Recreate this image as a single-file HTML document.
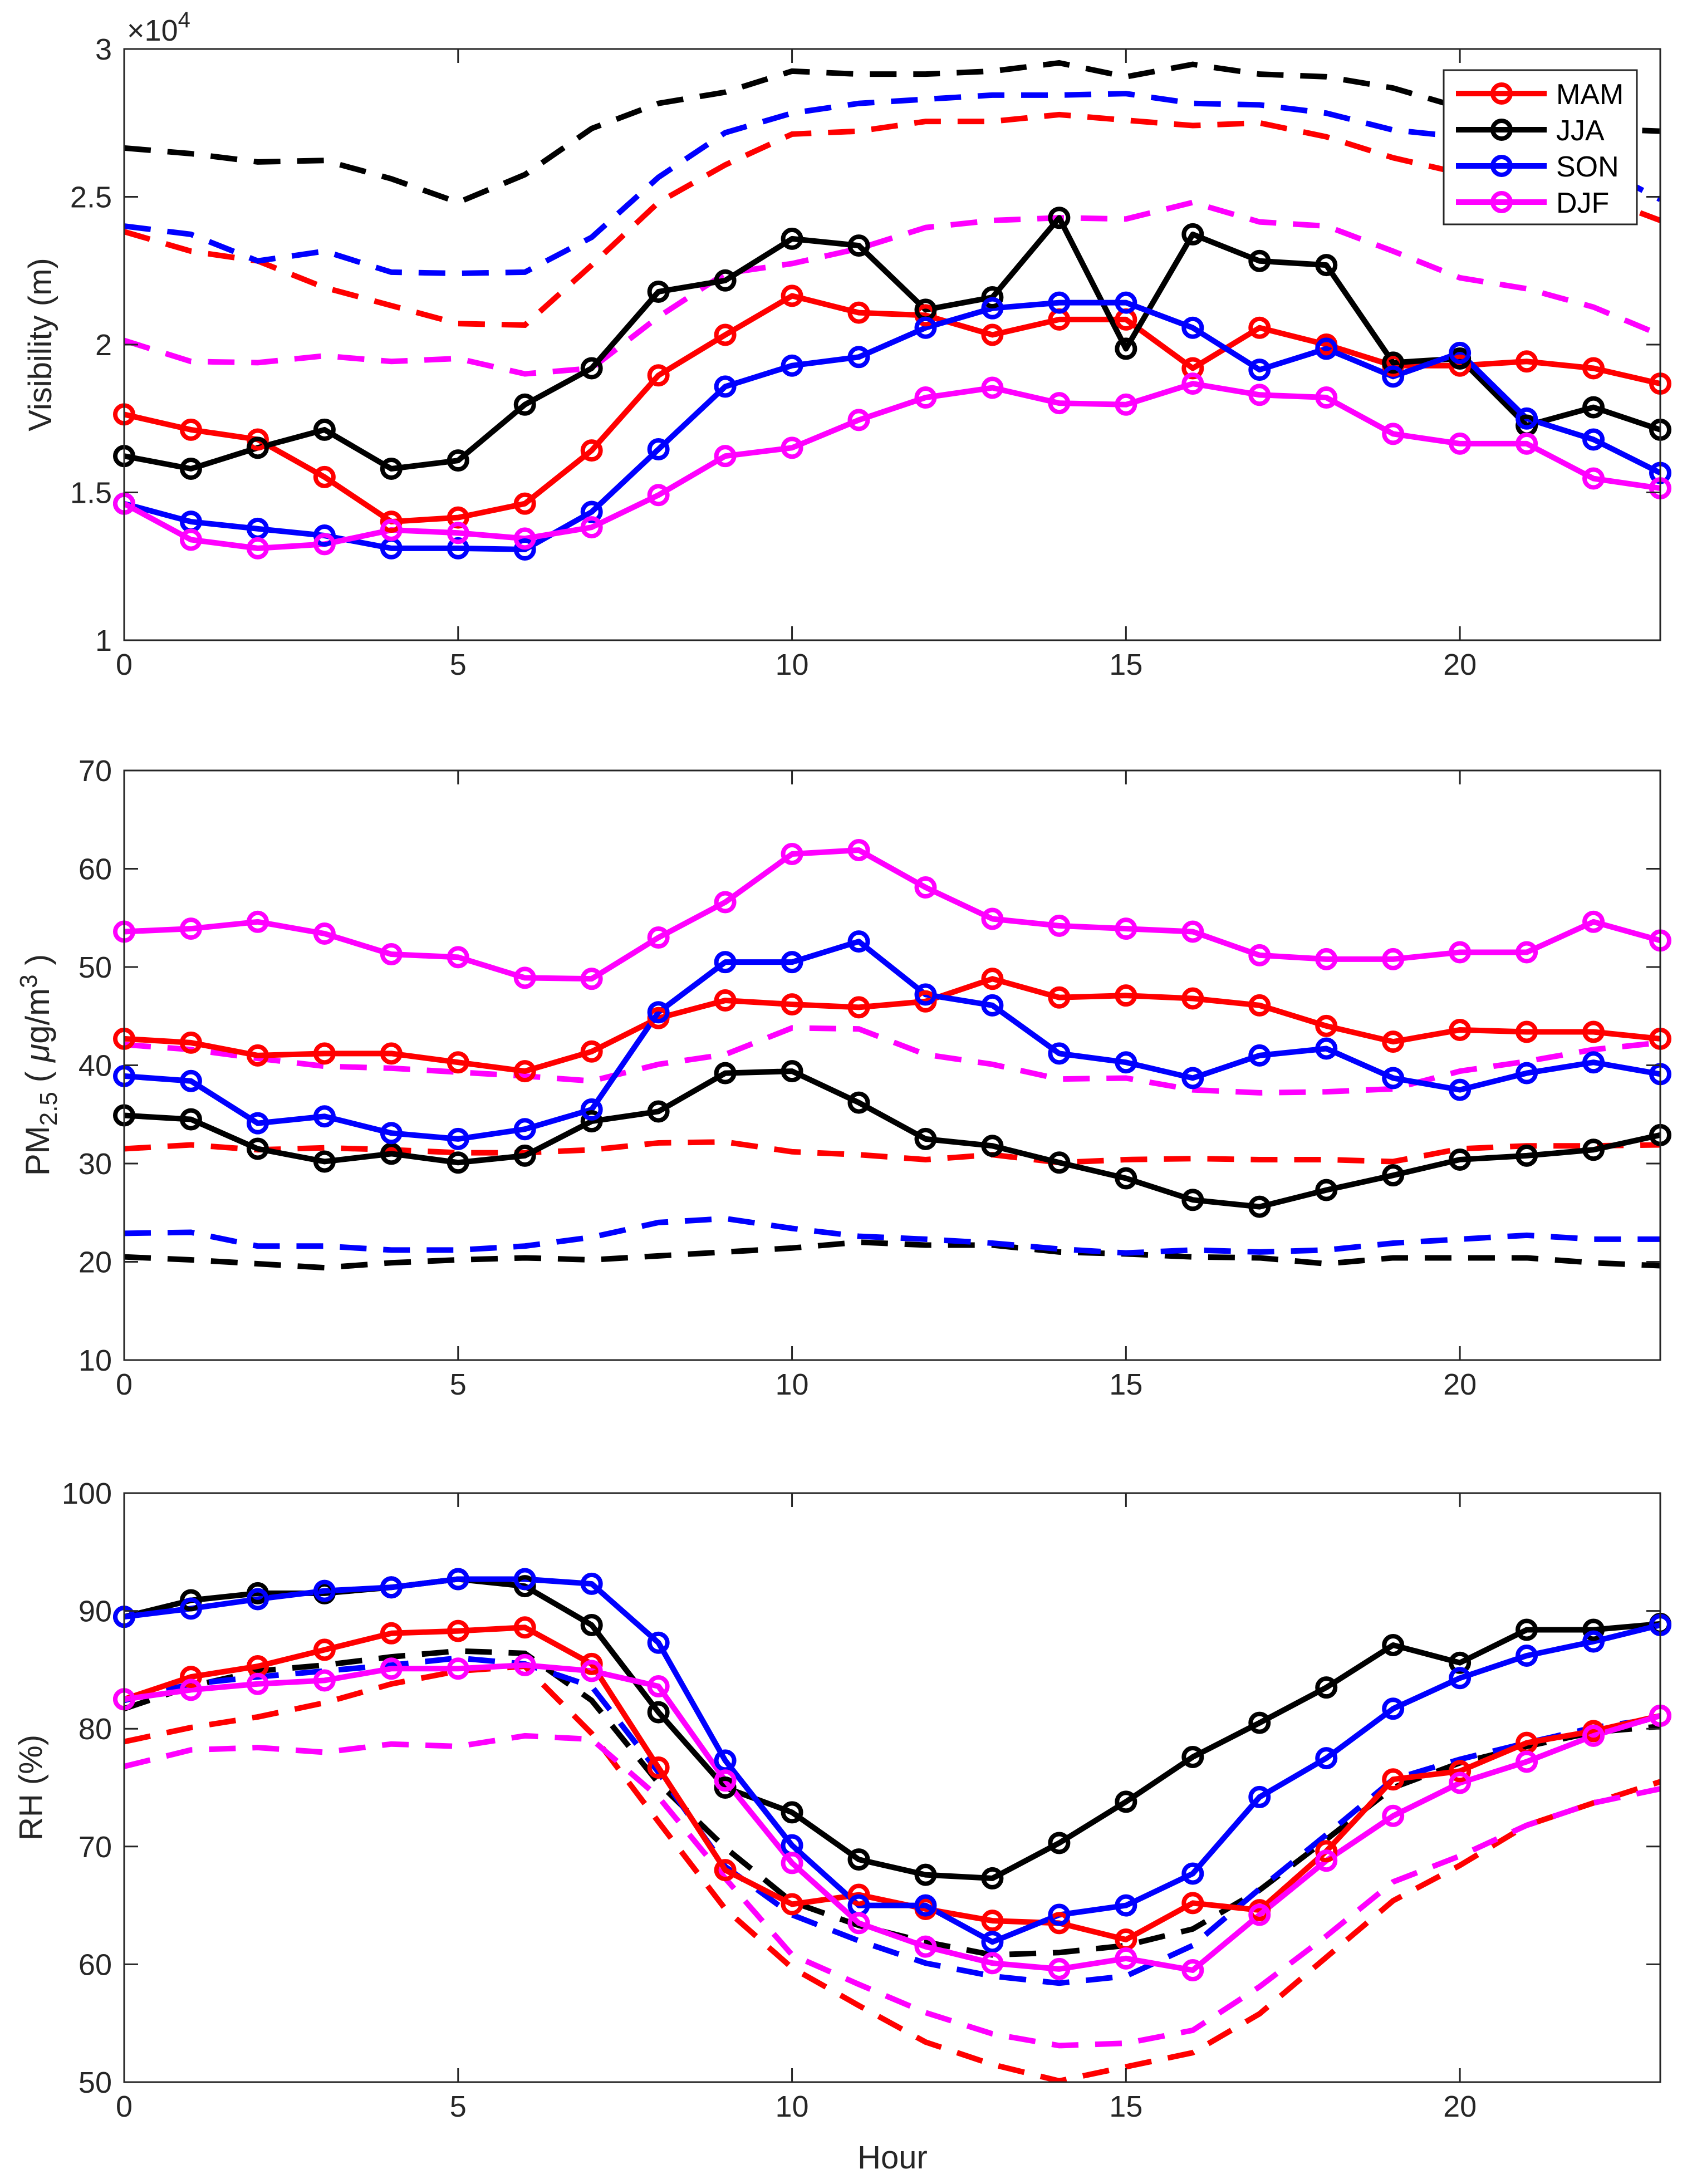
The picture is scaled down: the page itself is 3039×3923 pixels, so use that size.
<!DOCTYPE html>
<html><head><meta charset="utf-8"><style>
html,body{margin:0;padding:0;background:#fff}
svg{display:block;font-family:"Liberation Sans",Arial,sans-serif}
</style></head><body>
<svg id="chart" width="3039" height="3923" viewBox="0 0 3039 3923" xmlns="http://www.w3.org/2000/svg" style="position:absolute;left:0;top:0"></svg>
<script>
const hours = [...Array(24).keys()];
const seasons = ["MAM","JJA","SON","DJF"];
const seasonColors = ["#ff0000","#000000","#0000ff","#ff00ff"];
const visSolidMAM=[1.764,1.712,1.679,1.552,1.401,1.415,1.462,1.642,1.896,2.033,2.165,2.108,2.099,2.033,2.085,2.085,1.92,2.057,2.0,1.929,1.929,1.943,1.92,1.868];
const visSolidJJA=[1.623,1.580,1.651,1.712,1.580,1.608,1.797,1.920,2.179,2.217,2.358,2.335,2.118,2.160,2.429,1.986,2.373,2.283,2.269,1.939,1.953,1.726,1.788,1.712];
const visSolidSON=[1.462,1.401,1.377,1.354,1.311,1.311,1.307,1.434,1.646,1.858,1.929,1.958,2.057,2.123,2.142,2.142,2.057,1.915,1.986,1.892,1.972,1.750,1.679,1.566];
const visSolidDJF=[1.462,1.340,1.311,1.325,1.373,1.363,1.344,1.382,1.491,1.623,1.651,1.745,1.821,1.854,1.802,1.797,1.868,1.830,1.821,1.698,1.665,1.665,1.547,1.514];
const visDashMAM=[2.382,2.316,2.283,2.193,2.132,2.071,2.066,2.269,2.481,2.608,2.712,2.722,2.755,2.755,2.778,2.759,2.741,2.75,2.703,2.632,2.580,2.552,2.505,2.42];
const visDashJJA=[2.665,2.646,2.618,2.623,2.561,2.481,2.575,2.731,2.816,2.854,2.925,2.915,2.915,2.925,2.953,2.906,2.948,2.915,2.906,2.868,2.802,2.76,2.731,2.722];
const visDashSON=[2.401,2.373,2.283,2.316,2.245,2.241,2.245,2.363,2.566,2.717,2.783,2.816,2.830,2.844,2.844,2.849,2.816,2.811,2.783,2.726,2.703,2.665,2.608,2.491];
const visDashDJF=[2.014,1.943,1.939,1.962,1.943,1.953,1.901,1.920,2.094,2.241,2.274,2.325,2.396,2.420,2.429,2.425,2.481,2.415,2.401,2.316,2.226,2.189,2.127,2.033];
const pmSolidMAM=[42.7,42.3,41.0,41.2,41.2,40.3,39.4,41.4,44.8,46.6,46.2,45.9,46.5,48.8,46.9,47.1,46.8,46.1,44.0,42.4,43.6,43.4,43.4,42.7];
const pmSolidJJA=[34.9,34.5,31.5,30.2,31.0,30.1,30.8,34.3,35.3,39.2,39.4,36.2,32.5,31.8,30.1,28.5,26.3,25.6,27.3,28.8,30.4,30.8,31.4,32.9];
const pmSolidSON=[38.9,38.4,34.1,34.8,33.1,32.5,33.5,35.5,45.4,50.5,50.5,52.6,47.2,46.1,41.2,40.3,38.7,41.0,41.7,38.7,37.5,39.2,40.3,39.1];
const pmSolidDJF=[53.6,53.9,54.6,53.4,51.3,51.0,48.9,48.8,53.0,56.6,61.5,61.9,58.1,54.9,54.2,53.9,53.6,51.2,50.8,50.8,51.5,51.5,54.6,52.7];
const pmDashMAM=[31.5,31.9,31.4,31.6,31.4,31.1,31.1,31.4,32.1,32.2,31.2,30.9,30.4,30.9,30.1,30.4,30.5,30.4,30.4,30.2,31.5,31.8,31.8,31.9];
const pmDashJJA=[20.5,20.2,19.8,19.4,19.9,20.2,20.4,20.2,20.6,21.0,21.4,22.0,21.7,21.7,21.0,20.8,20.5,20.4,19.8,20.4,20.4,20.4,19.9,19.6];
const pmDashSON=[22.9,23.0,21.6,21.6,21.2,21.2,21.6,22.5,24.0,24.4,23.4,22.6,22.3,21.9,21.3,20.9,21.2,21.0,21.2,21.9,22.3,22.7,22.3,22.3];
const pmDashDJF=[42.1,41.6,40.7,39.9,39.7,39.3,38.9,38.4,40.1,41.1,43.8,43.7,41.1,40.1,38.6,38.7,37.5,37.2,37.3,37.6,39.4,40.4,41.6,42.3];
const rhSolidMAM=[82.5,84.4,85.3,86.7,88.1,88.3,88.6,85.5,76.7,68.0,65.1,65.9,64.7,63.7,63.5,62.1,65.2,64.6,69.6,75.7,76.4,78.8,79.8,81.1];
const rhSolidJJA=[89.5,90.9,91.5,91.5,92.0,92.7,92.1,88.8,81.4,75.0,72.9,68.9,67.6,67.3,70.3,73.8,77.6,80.5,83.5,87.1,85.6,88.4,88.4,88.9];
const rhSolidSON=[89.5,90.2,91.0,91.7,92.0,92.7,92.7,92.3,87.3,77.3,70.1,65.0,65.0,61.9,64.2,65.0,67.7,74.2,77.5,81.7,84.3,86.2,87.4,88.8];
const rhSolidDJF=[82.5,83.3,83.8,84.1,85.1,85.1,85.4,84.9,83.6,75.6,68.6,63.5,61.5,60.1,59.6,60.5,59.5,64.2,68.8,72.6,75.4,77.2,79.4,81.1];
const rhDashMAM=[78.9,80.1,81.0,82.2,83.8,84.9,85.3,79.6,72.1,64.7,59.7,56.5,53.4,51.5,50.1,51.3,52.5,55.8,60.6,65.4,68.4,71.8,73.7,75.5];
const rhDashJJA=[81.7,83.6,84.9,85.4,86.1,86.6,86.4,82.4,75.4,69.9,65.3,63.3,61.9,60.8,61.0,61.6,63.0,66.3,70.6,75.0,77.1,78.5,79.7,80.2];
const rhDashSON=[82.4,83.8,84.4,84.9,85.4,86.0,85.5,83.6,76.3,68.3,64.2,62.0,60.1,59.0,58.4,59.0,61.6,66.4,71.0,75.7,77.4,78.8,80.1,80.9];
const rhDashDJF=[76.8,78.2,78.4,78.0,78.7,78.5,79.4,79.1,74.2,67.3,60.8,58.3,55.9,54.1,53.1,53.3,54.4,58.1,62.4,67.0,69.2,71.8,73.7,74.9];
const xTicks=[0,5,10,15,20];
const visTicks=[1,1.5,2,2.5,3];
const pmTicks=[10,20,30,40,50,60,70];
const rhTicks=[50,60,70,80,90,100];

const NS="http://www.w3.org/2000/svg";
const svg=document.getElementById('chart');
function mk(tag,attrs,parent){const e=document.createElementNS(NS,tag);for(const k in attrs)e.setAttribute(k,attrs[k]);(parent||svg).appendChild(e);return e;}
const X0=223,X1=2982;
const xs=h=>X0+(h-0)/23*(X1-X0);
const AX="#262626";

function panel(name,top,bot,ymin,ymax,ticks,dashes,solids,tickFmt){
  const g=mk('g',{});
  
  
  const ys=v=>bot-(v-ymin)/(ymax-ymin)*(bot-top);
  const clipId='clip-'+name;
  const cp=mk('clipPath',{id:clipId},g);mk('rect',{x:X0,y:top,width:X1-X0,height:bot-top},cp);
  const plot=mk('g',{'clip-path':'url(#'+clipId+')'},g);
  dashes.forEach((arr,i)=>{
    const p=mk('polyline',{points:arr.map((v,h)=>xs(h)+','+ys(v)).join(' '),fill:'none',stroke:seasonColors[i],'stroke-width':10,'stroke-dasharray':'48 30'},plot);
    
    
  });
  solids.forEach((arr,i)=>{
    const p=mk('polyline',{points:arr.map((v,h)=>xs(h)+','+ys(v)).join(' '),fill:'none',stroke:seasonColors[i],'stroke-width':10,'stroke-linejoin':'round'},plot);
    
    
  });
  solids.forEach((arr,i)=>{
    arr.forEach((v,h)=>{
      const c=mk('circle',{cx:xs(h),cy:ys(v),r:16,fill:'none',stroke:seasonColors[i],'stroke-width':8},g);
      
      
    });
  });
  const box=mk('rect',{x:X0,y:top,width:X1-X0,height:bot-top,fill:'none',stroke:AX,'stroke-width':3},g);
  
  
  xTicks.forEach(t=>{
    const x=xs(t);
    mk('line',{x1:x,y1:bot,x2:x,y2:bot-25,stroke:AX,'stroke-width':3},g);
    mk('line',{x1:x,y1:top,x2:x,y2:top+25,stroke:AX,'stroke-width':3},g);
    const tx=mk('text',{x:x,y:bot+62,'text-anchor':'middle','font-size':54,fill:AX},g);tx.textContent=t;
    
    
  });
  ticks.forEach(t=>{
    const y=ys(t);
    mk('line',{x1:X0,y1:y,x2:X0+25,y2:y,stroke:AX,'stroke-width':3},g);
    mk('line',{x1:X1,y1:y,x2:X1-25,y2:y,stroke:AX,'stroke-width':3},g);
    const tx=mk('text',{x:X0-22,y:y+19,'text-anchor':'end','font-size':54,fill:AX},g);tx.textContent=tickFmt(t);
    
    
  });
  return g;
}
panel('visibility',88,1150,1,3,visTicks,[visDashMAM,visDashJJA,visDashSON,visDashDJF],[visSolidMAM,visSolidJJA,visSolidSON,visSolidDJF],t=>String(t));
panel('pm25',1384,2443,10,70,pmTicks,[pmDashMAM,pmDashJJA,pmDashSON,pmDashDJF],[pmSolidMAM,pmSolidJJA,pmSolidSON,pmSolidDJF],t=>String(t));
panel('rh',2682,3740,50,100,rhTicks,[rhDashMAM,rhDashJJA,rhDashSON,rhDashDJF],[rhSolidMAM,rhSolidJJA,rhSolidSON,rhSolidDJF],t=>String(t));

const lg=mk('g',{});


mk('rect',{x:2593,y:126,width:347,height:277,fill:'#fff',stroke:AX,'stroke-width':3},lg);
seasons.forEach((s,i)=>{
  const y=168+i*65;
  const e=mk('g',{},lg);
  
  
  mk('line',{x1:2615,y1:y,x2:2778,y2:y,stroke:seasonColors[i],'stroke-width':10},e);
  mk('circle',{cx:2697,cy:y,r:16,fill:'none',stroke:seasonColors[i],'stroke-width':8},e);
  const t=mk('text',{x:2795,y:y+19,'font-size':52,fill:'#000'},e);t.textContent=s;
});
</script>
<div style="position:absolute;left:0;top:0;width:3039px;height:3923px;pointer-events:none">
<svg width="3039" height="3923" style="position:absolute;left:0;top:0" xmlns="http://www.w3.org/2000/svg" font-family="Liberation Sans, Arial, sans-serif">
<text x="228" y="73" font-size="54" fill="#262626">×10<tspan dy="-24" font-size="40">4</tspan></text>
<text transform="translate(92,619) rotate(-90)" text-anchor="middle" font-size="58" fill="#262626">Visibility (m)</text>
<text transform="translate(88,1913) rotate(-90)" text-anchor="middle" font-size="60" fill="#262626">PM<tspan dy="14" font-size="44">2.5</tspan><tspan dy="-14"> (  </tspan><tspan font-style="italic">μ</tspan>g/m<tspan dy="-22" font-size="44">3</tspan><tspan dy="22">  )</tspan></text>
<text transform="translate(75,3211) rotate(-90)" text-anchor="middle" font-size="58" fill="#262626">RH (%)</text>
<text x="1603" y="3895" text-anchor="middle" font-size="58" fill="#262626">Hour</text>
</svg></div>
</body></html>
